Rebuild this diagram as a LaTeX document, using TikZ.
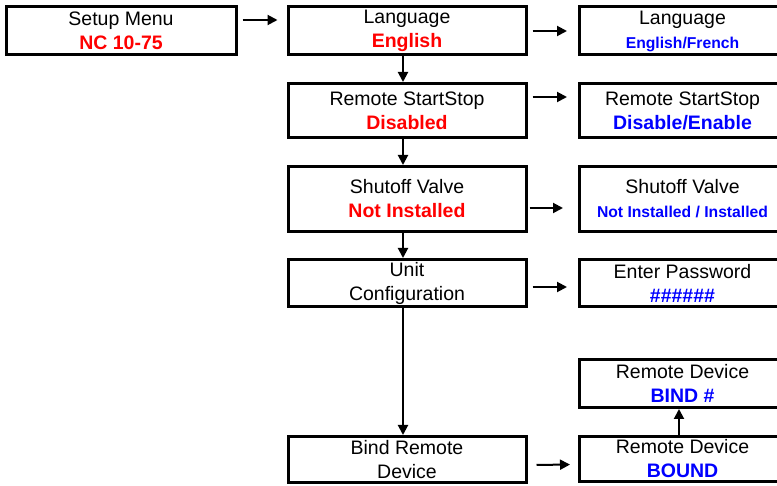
\documentclass[tikz,border=0pt]{standalone}
\usepackage{fontspec}
\setmainfont{Liberation Sans}
\usetikzlibrary{arrows.meta,calc}
\newcommand{\curval}[1]{\textcolor{red}{\bfseries #1}}
\newcommand{\optval}[1]{\textcolor{blue}{\bfseries #1}}
\newcommand{\smallopt}[1]{{\fontsize{15.7}{24}\selectfont\optval{#1}}}
\begin{document}
\begin{tikzpicture}[x=1pt, y=-1pt,
    box/.style={draw, line width=3pt, align=center, inner sep=0pt, outer sep=1.5pt,
      minimum width=238pt, font=\fontsize{19.5}{24}\selectfont},
    rbox/.style={box, minimum width=206pt},
    arr/.style={->, >={Triangle[length=10pt,width=10pt]}, line width=2pt}]
      \useasboundingbox (0,0) rectangle (777,486);
      \clip (0,0) rectangle (777,486);
      \node[box, minimum width=230pt, minimum height=48pt] (setup) at (121, 31) {Setup Menu\\\curval{NC 10-75}};
      \node[box, minimum height=48pt] (lang) at (407, 31) {Language\\\curval{English}};
      \node[box, minimum height=54pt] (remote) at (407, 110.5) {Remote StartStop\\\curval{Disabled}};
      \node[box, minimum height=65pt] (valve) at (407, 199) {Shutoff Valve\\\curval{Not Installed}};
      \node[box, minimum height=47pt] (unit) at (407, 283) {Unit\\Configuration};
      \node[box, minimum height=46pt] (bind) at (407, 459.5) {Bind Remote\\Device};
      \node[rbox, minimum height=48pt] (langopt) at (682.5, 31) {Language\\\smallopt{English/French}};
      \node[rbox, minimum height=54pt] (remoteopt) at (682.5, 110.5) {Remote StartStop\\\optval{Disable/Enable}};
      \node[rbox, minimum height=65pt] (valveopt) at (682.5, 199) {Shutoff Valve\\\smallopt{Not Installed / Installed}};
      \node[rbox, minimum height=47pt] (pwd) at (682.5, 283) {Enter Password\\\optval{\#\#\#\#\#\#}};
      \node[rbox, minimum height=48pt] (bindno) at (682.5, 383.5) {Remote Device\\\optval{BIND \#}};
      \node[rbox, minimum height=45pt] (bound) at (682.5, 459) {Remote Device\\\optval{BOUND}};
      \draw[arr, shorten <=5pt, shorten >=9pt] ($(setup.east)+(0,-11)$) -- ($(lang.west)+(0,-11)$);
      \draw[arr, shorten <=5pt, shorten >=11pt] (lang.east) -- (langopt.west);
      \draw[arr, shorten <=5pt, shorten >=11pt] ($(remote.east)+(0,-13.5)$) -- ($(remoteopt.west)+(0,-13.5)$);
      \draw[arr, shorten <=2pt, shorten >=15pt] ($(valve.east)+(0,9)$) -- ($(valveopt.west)+(0,9)$);
      \draw[arr, shorten <=5pt, shorten >=11pt] ($(unit.east)+(0,4)$) -- ($(pwd.west)+(0,4)$);
      \draw[arr, shorten <=9pt, shorten >=8pt] ($(bind.east)+(0,5.5)$) -- ($(bound.west)+(0,5.5)$);
      \draw[arr] ($(lang.south)+(-4,0)$) -- ($(remote.north)+(-4,0)$);
      \draw[arr] ($(remote.south)+(-4,0)$) -- ($(valve.north)+(-4,0)$);
      \draw[arr] ($(valve.south)+(-4,0)$) -- ($(unit.north)+(-4,0)$);
      \draw[arr] ($(unit.south)+(-4,0)$) -- ($(bind.north)+(-4,0)$);
      \draw[arr] ($(bound.north)+(-3.5,0)$) -- ($(bindno.south)+(-3.5,0)$);
\end{tikzpicture}
\end{document}
